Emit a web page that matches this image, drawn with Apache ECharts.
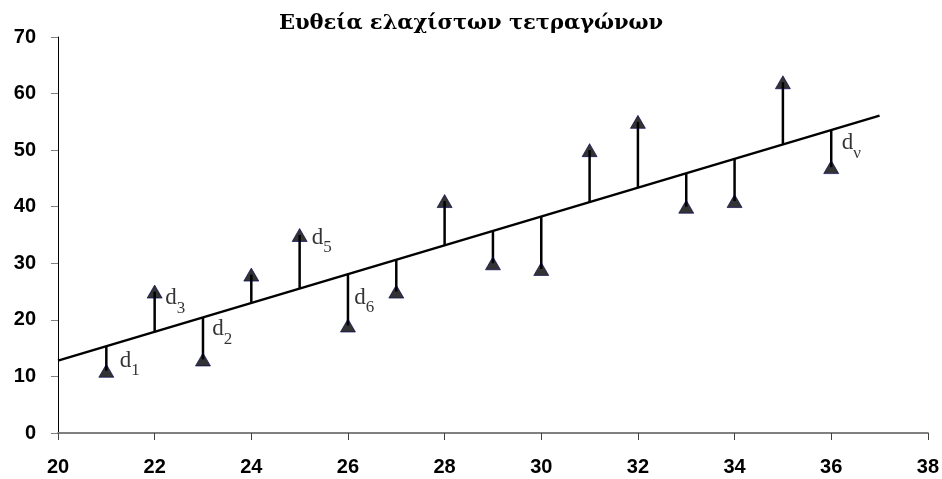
<!DOCTYPE html>
<html>
<head>
<meta charset="utf-8">
<script src="https://cdn.jsdelivr.net/npm/echarts@6/dist/echarts.min.js"></script>
<style>html,body{margin:0;padding:0;background:#fff;}#c{width:942px;height:479px;}</style>
</head>
<body>
<div id="c"></div>
<script>
// Data
const xValues   = [21, 22, 23, 24, 25, 26, 27, 28, 29, 30, 31, 32, 33, 34, 35, 36];
const yValues   = [11, 25, 13, 28, 35, 19, 25, 41, 30, 29, 50, 55, 40, 41, 62, 47];
const fitValues = [15.3, 17.8, 20.4, 23.0, 25.5, 28.1, 30.6, 33.2, 35.7, 38.3, 40.8, 43.4, 45.9, 48.5, 51.0, 53.6];
const lineStart = [20, 12.8];
const lineEnd   = [37, 56.1];
const labelNames = ['1', '3', '2', '5', '6', 'ν'];
const labelX     = [21.28, 22.22, 23.19, 25.25, 26.13, 36.22];
const labelY     = [12.9, 23.9, 18.4, 34.6, 24.0, 51.3];
const xTicks = { min: 20, max: 38, step: 2 };
const yTicks = { min: 0, max: 70, step: 10 };
const titleText = 'Ευθεία ελαχίστων τετραγώνων';

const points = xValues.map((x, i) => [x, yValues[i]]);
const segs = xValues.map((x, i) => [x, fitValues[i], yValues[i]]);
const labels = labelNames.map((n, i) => ({ value: [labelX[i], labelY[i]], sub: n }));

const chart = echarts.init(document.getElementById('c'));
chart.setOption({
  animation: false,
  title: {
    text: titleText,
    left: 'center',
    top: 8,
    textStyle: { fontFamily: 'DejaVu Serif', fontWeight: 'bold', fontSize: 21, color: '#000' }
  },
  grid: { left: 58, right: 9, top: 37, bottom: 46, containLabel: false },
  xAxis: {
    type: 'value', min: xTicks.min, max: xTicks.max, interval: xTicks.step,
    splitLine: { show: false },
    axisLine: { onZero: false, lineStyle: { color: '#808080', width: 2 } },
    axisTick: { show: true, length: 7, lineStyle: { color: '#404040', width: 1 } },
    axisLabel: { margin: 24, color: '#000', fontFamily: 'Liberation Sans Narrow, Liberation Sans, Arial', fontWeight: 'bold', fontSize: 20 }
  },
  yAxis: {
    type: 'value', min: yTicks.min, max: yTicks.max, interval: yTicks.step,
    splitLine: { show: false },
    axisLine: { show: true, lineStyle: { color: '#000', width: 1 } },
    axisTick: { show: true, length: 7, lineStyle: { color: '#808080', width: 1 } },
    axisLabel: { margin: 22, color: '#000', fontFamily: 'Liberation Sans, Arial', fontWeight: 'bold', fontSize: 20 }
  },
  series: [
    {
      type: 'line', data: [lineStart, lineEnd], showSymbol: false, symbol: 'none',
      lineStyle: { color: '#000', width: 2.5 }, z: 2
    },
    {
      type: 'custom', data: segs, z: 3,
      renderItem: function (params, api) {
        const a = api.coord([api.value(0), api.value(1)]);
        const b = api.coord([api.value(0), api.value(2)]);
        return { type: 'line', shape: { x1: a[0], y1: a[1], x2: b[0], y2: b[1] },
                 style: { stroke: '#000', lineWidth: 2.5 } };
      }
    },
    {
      type: 'scatter', data: points, symbol: 'triangle', symbolSize: [15, 13], z: 5,
      itemStyle: { color: '#000', borderColor: '#000050', borderWidth: 0.8 }
    },
    {
      type: 'scatter', data: labels, symbolSize: 0, z: 6, silent: true,
      label: {
        show: true, position: 'right', distance: 0,
        formatter: p => '{d|d}{s|' + p.data.sub + '}',
        rich: {
          d: { fontFamily: 'Liberation Serif', fontSize: 23, color: '#000', verticalAlign: 'bottom', lineHeight: 24 },
          s: { fontFamily: 'Liberation Serif', fontSize: 17, color: '#000', verticalAlign: 'bottom', lineHeight: 24, padding: [0, 0, -7, 0] }
        }
      }
    }
  ]
});
</script>
</body>
</html>
